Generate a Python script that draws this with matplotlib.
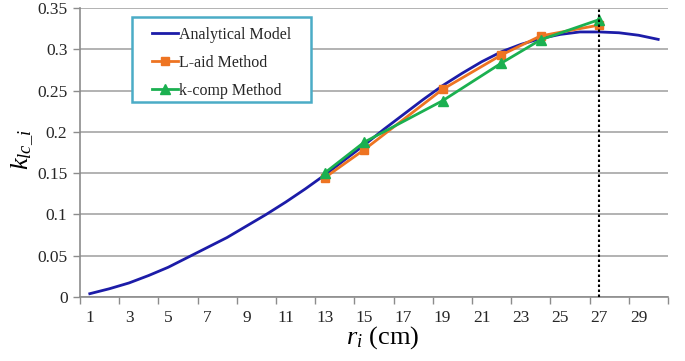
import matplotlib
matplotlib.use("Agg")
import matplotlib.pyplot as plt
from matplotlib.ticker import FixedLocator, NullFormatter, FixedFormatter
from matplotlib.patches import Rectangle

plt.rcParams['font.family'] = ['Liberation Serif', 'DejaVu Serif']
plt.rcParams['mathtext.fontset'] = 'custom'
plt.rcParams['mathtext.rm'] = 'Liberation Serif'
plt.rcParams['mathtext.it'] = 'Liberation Serif:italic'

# Data
r_analytical = list(range(1, 31))
k_analytical = [0.004, 0.010, 0.017, 0.026, 0.036, 0.048, 0.060, 0.072, 0.086, 0.100,
                0.115, 0.131, 0.148, 0.166, 0.184, 0.203, 0.221, 0.239, 0.256, 0.271,
                0.285, 0.297, 0.306, 0.313, 0.318, 0.321, 0.321, 0.320, 0.317, 0.312]
r_methods = [13, 15, 19, 22, 24, 27]
k_laid = [0.1447, 0.1784, 0.2515, 0.2931, 0.3162, 0.3294]
k_kcomp = [0.1505, 0.1875, 0.2377, 0.2833, 0.3115, 0.3360]
x_tick_labels = [str(v) for v in range(1, 30, 2)]
y_ticks = [0, 0.05, 0.1, 0.15, 0.2, 0.25, 0.3, 0.35]
y_tick_labels = ["0", "0.05", "0.1", "0.15", "0.2", "0.25", "0.3", "0.35"]
r_marker_line = 27

fig = plt.figure(figsize=(6.85, 3.61), dpi=100)
ax = fig.add_axes([80/685, 64/361, 588/685, 289/361])

blue = '#1c1ca8'
orange = '#ee7422'
green = '#1bb050'

ax.plot(r_analytical, k_analytical, color=blue, lw=2.0, label='Analytical Model', zorder=3)
ax.plot(r_methods, k_laid, color=orange, lw=2.0, marker='s', ms=5.5, label='L-aid Method', zorder=4)
ax.plot(r_methods, k_kcomp, color=green, lw=2.0, marker='^', ms=6.5, label='k-comp Method', zorder=5)
ax.axvline(r_marker_line, color='black', ls=(0, (1.2, 1.2)), lw=1.5, zorder=6)

ax.set_xlim(0.5, 30.5)
ax.set_ylim(0, 0.35)

ax.xaxis.set_major_locator(FixedLocator([0.5 + 2*i for i in range(16)]))
ax.xaxis.set_major_formatter(NullFormatter())
ax.xaxis.set_minor_locator(FixedLocator(list(range(1, 30, 2))))
ax.xaxis.set_minor_formatter(FixedFormatter(x_tick_labels))
ax.tick_params(axis='x', which='major', length=5, width=1.0, color='#8c8c8c', direction='out')
ax.tick_params(axis='x', which='minor', length=0, pad=9, labelsize=12.5, labelcolor='#262626')

ax.set_yticks(y_ticks)
ax.set_yticklabels(y_tick_labels)
ax.tick_params(axis='y', length=5, width=1.0, color='#8c8c8c', direction='out', pad=4,
               labelsize=12.5, labelcolor='#262626')

ax.grid(axis='y', color='#a6a6a6', lw=1.2, zorder=0)
ax.set_axisbelow(True)
for s in ['top', 'right']:
    ax.spines[s].set_visible(False)
for s in ['left', 'bottom']:
    ax.spines[s].set_color('#8c8c8c')
    ax.spines[s].set_linewidth(1.2)

ax.set_xlabel(r'$r_i$ (cm)', fontsize=19)
ax.xaxis.set_label_coords(0.515, -0.095)
ax.set_ylabel(r'$k_{lc\_i}$', fontsize=19)
ax.yaxis.set_label_coords(-0.075, 0.51)

# legend box
box = Rectangle((0.0884, 0.675), 0.3045, 0.294, transform=ax.transAxes,
                facecolor='white', edgecolor='#4bacc6', lw=1.8, zorder=7, clip_on=False)
ax.add_patch(box)
leg = ax.legend(loc='upper left', bbox_to_anchor=(0.1224, 0.934), fontsize=11.5,
                frameon=False, handlelength=1.65, handletextpad=0.05, labelspacing=0.75,
                borderpad=0, borderaxespad=0)
leg.set_zorder(8)
for t in leg.get_texts():
    t.set_color('#262626')

fig.savefig('out.png', dpi=100)
